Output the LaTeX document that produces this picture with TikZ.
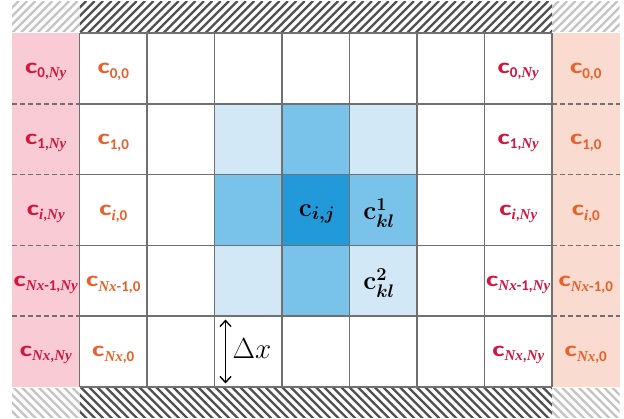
\RequirePackage{fix-cm}
\documentclass[tikz,border=0pt]{standalone}
\usepackage{amsmath}
\usepackage{graphicx}
\usepackage{fontspec}
\setmainfont{Carlito}
\newfontfamily\subfam{Liberation Serif}
\usetikzlibrary{arrows.meta}
\definecolor{pinkcol}{RGB}{249,203,212}
\definecolor{peachcol}{RGB}{249,219,208}
\definecolor{redtxt}{RGB}{210,22,62}
\definecolor{orangetxt}{RGB}{234,96,40}
\definecolor{bluelight}{RGB}{211,232,247}
\definecolor{bluemid}{RGB}{121,194,234}
\definecolor{bluedark}{RGB}{34,154,218}
\definecolor{gridgray}{RGB}{112,112,112}
\definecolor{hatchdark}{RGB}{80,80,80}
\definecolor{hatchlight}{RGB}{196,196,196}
\newcommand{\sv}[1]{{\subfam\bfseries\itshape #1}}
\newcommand{\clab}[1]{\scalebox{1.4}[1]{c}\raisebox{-4.5pt}{\fontsize{15}{15}\selectfont #1}}
\tikzset{
  gridline/.style={draw=gridgray, line width=1.6pt},
  dashline/.style={draw=gridgray, line width=1.7pt, dash pattern=on 5pt off 3pt},
  hatchD/.style={draw=hatchdark, line width=2.3pt},
  hatchL/.style={draw=hatchlight, line width=2.3pt},
  lab/.style={inner sep=0pt, font=\fontsize{21}{24}\selectfont\bfseries},
  redlab/.style={lab, text=redtxt},
  orlab/.style={lab, text=orangetxt},
  midlab/.style={inner sep=0pt, font=\fontsize{26}{30}\selectfont\boldmath},
  dxarrow/.style={line width=1.4pt, {Straight Barb[length=6pt,width=11pt]}-{Straight Barb[length=6pt,width=11pt]}},
}
\begin{document}
\begin{tikzpicture}[x=1pt,y=-1pt]
\useasboundingbox (0,0) rectangle (624,419);
% side columns
\fill[pinkcol] (12,33) rectangle (79.5,387);
\fill[peachcol] (552,33) rectangle (619.5,387);
% blue stencil
\fill[bluelight] (214.5,103.8) rectangle (282,174.6);
\fill[bluelight] (349.5,103.8) rectangle (417,174.6);
\fill[bluelight] (214.5,245.4) rectangle (282,316.2);
\fill[bluelight] (349.5,245.4) rectangle (417,316.2);
\fill[bluemid] (282,103.8) rectangle (349.5,174.6);
\fill[bluemid] (214.5,174.6) rectangle (282,245.4);
\fill[bluemid] (349.5,174.6) rectangle (417,245.4);
\fill[bluemid] (282,245.4) rectangle (349.5,316.2);
\fill[bluedark] (282,174.6) rectangle (349.5,245.4);
% hatching
\begin{scope}
\clip (79.5,2) rectangle (552,31.5);
\foreach \i in {-5,...,60} \draw[hatchD] ({79.5+\i*8.4},33) -- ++(32,-32);
\end{scope}
\begin{scope}
\clip (12,2) rectangle (79.5,31.5);
\foreach \i in {-5,...,10} \draw[hatchL] ({12+\i*8.4},33) -- ++(32,-32);
\end{scope}
\begin{scope}
\clip (552,2) rectangle (619.5,31.5);
\foreach \i in {-5,...,10} \draw[hatchL] ({552+\i*8.4},33) -- ++(32,-32);
\end{scope}
\begin{scope}
\clip (79.5,388.5) rectangle (552,418);
\foreach \i in {-5,...,60} \draw[hatchD] ({79.5+\i*8.4},386) -- ++(33,33);
\end{scope}
\begin{scope}
\clip (12,388.5) rectangle (79.5,418);
\foreach \i in {-5,...,10} \draw[hatchL] ({12+\i*8.4},386) -- ++(33,33);
\end{scope}
\begin{scope}
\clip (552,388.5) rectangle (619.5,418);
\foreach \i in {-5,...,10} \draw[hatchL] ({552+\i*8.4},386) -- ++(33,33);
\end{scope}
% dashed separators in side columns
\foreach \y in {103.8,174.6,245.4,316.2} {
  \draw[dashline] (12,\y) -- (79.5,\y);
  \draw[dashline] (552,\y) -- (619.5,\y);
}
% grid
\foreach \x in {79.5,147,214.5,282,349.5,417,484.5,552}
  \draw[gridline] (\x,33) -- (\x,387);
\foreach \y in {33,103.8,174.6,245.4,316.2,387}
  \draw[gridline] (79.5,\y) -- (552,\y);
% labels: left pink column
\node[redlab] (L0) at (45.75,72) {\clab{0,\sv{Ny}}};
\node[redlab] (L1) at (45.75,143) {\clab{1,\sv{Ny}}};
\node[redlab] (Li) at (45.75,214) {\clab{\sv{i},\sv{Ny}}};
\node[redlab] (LN1) at (45.75,285) {\clab{\sv{Nx}-1,\sv{Ny}}};
\node[redlab] (LN) at (45.75,355) {\clab{\sv{Nx},\sv{Ny}}};
% column 2
\node[orlab] (A0) at (113.25,72) {\clab{0,0}};
\node[orlab] (A1) at (113.25,143) {\clab{1,0}};
\node[orlab] (Ai) at (113.25,214) {\clab{\sv{i},0}};
\node[orlab] (AN1) at (113.25,285) {\clab{\sv{Nx}-1,0}};
\node[orlab] (AN) at (113.25,355) {\clab{\sv{Nx},0}};
% column 9
\node[redlab] (B0) at (518.25,72) {\clab{0,\sv{Ny}}};
\node[redlab] (B1) at (518.25,143) {\clab{1,\sv{Ny}}};
\node[redlab] (Bi) at (518.25,214) {\clab{\sv{i},\sv{Ny}}};
\node[redlab] (BN1) at (518.25,285) {\clab{\sv{Nx}-1,\sv{Ny}}};
\node[redlab] (BN) at (518.25,355) {\clab{\sv{Nx},\sv{Ny}}};
% right peach column
\node[orlab] (R0) at (585.75,72) {\clab{0,0}};
\node[orlab] (R1) at (585.75,143) {\clab{1,0}};
\node[orlab] (Ri) at (585.75,214) {\clab{\sv{i},0}};
\node[orlab] (RN1) at (585.75,285) {\clab{\sv{Nx}-1,0}};
\node[orlab] (RN) at (585.75,355) {\clab{\sv{Nx},0}};
% stencil labels
\node[midlab] (cij) at (317,214) {$\mathbf{c}_{i,j}$};
\node[midlab] (ck1) at (379,213) {$\mathbf{c}^{1}_{kl}$};
\node[midlab] (ck2) at (379,283) {$\mathbf{c}^{2}_{kl}$};
% delta x
\coordinate (dxtop) at (225.5,319.5);
\coordinate (dxbot) at (225.5,383.5);
\draw[dxarrow] (dxtop) -- (dxbot);
\node[inner sep=0pt, font=\fontsize{29}{32}\selectfont] (dx) at (252,349) {$\Delta x$};
\end{tikzpicture}
\end{document}
